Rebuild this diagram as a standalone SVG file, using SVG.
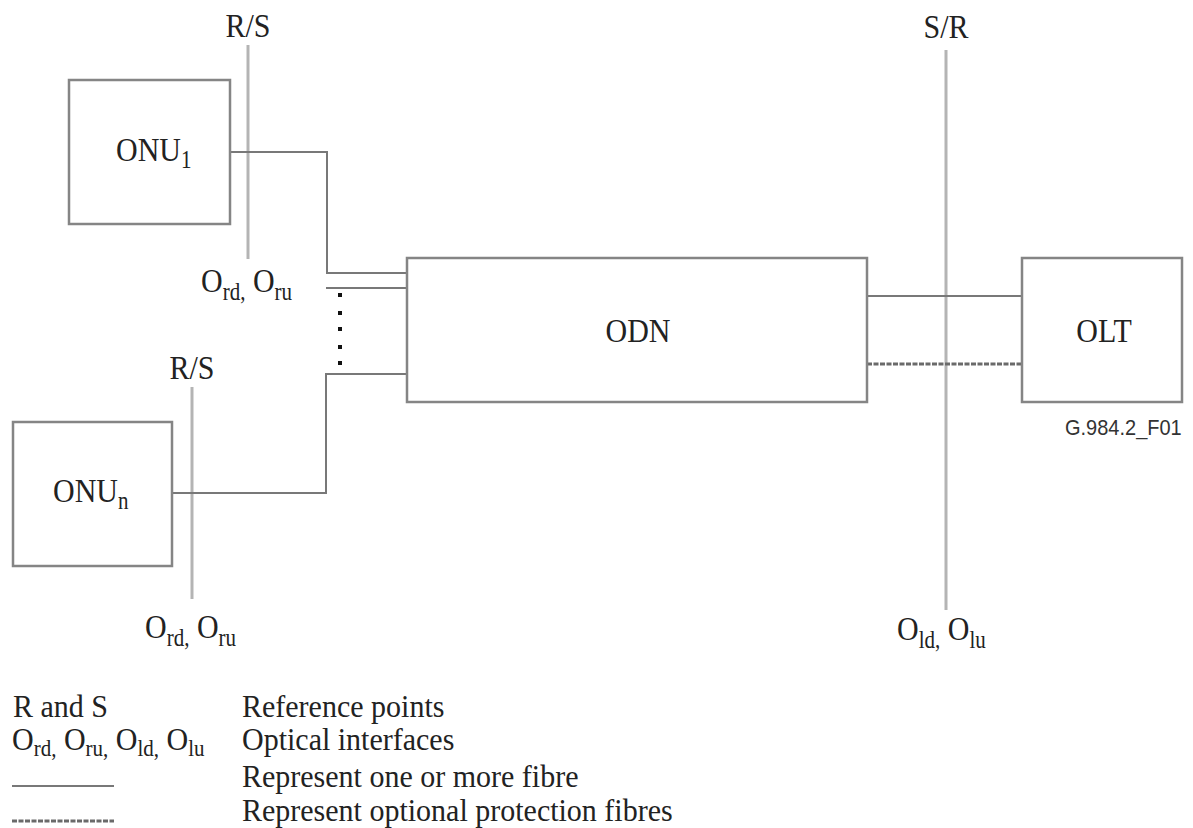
<svg xmlns="http://www.w3.org/2000/svg" width="1193" height="828" viewBox="0 0 1193 828">
<style>
.box{fill:#fff;stroke:#858585;stroke-width:2.5}
.ln{fill:none;stroke:#787878;stroke-width:2}
.ref{fill:none;stroke:#b4b4b4;stroke-width:3}
.dot{fill:none;stroke:#6a6a6a;stroke-width:3;stroke-dasharray:5 1.5}
text{font-family:"Liberation Serif","Times New Roman",serif;font-size:30px;fill:#222}
.sub{font-size:21px}
.sans{font-family:"Liberation Sans",Arial,sans-serif;font-size:20px;fill:#333}
</style>
<rect width="1193" height="828" fill="#fff"/>
<g id="connectors">
<line class="ref" x1="248" y1="45" x2="248" y2="259"/>
<line class="ref" x1="192" y1="387" x2="192" y2="599"/>
<line class="ref" x1="946" y1="50" x2="946" y2="610"/>
<path class="ln" d="M230,152 H327 V273 H407"/>
<path class="ln" d="M326,288 H407"/>
<path class="ln" d="M407,374 H326 V493 H172"/>
<path class="ln" d="M867,296 H1022"/>
<path class="dot" d="M867,364 H1022"/>
<g fill="#111">
<rect x="338" y="293" width="4" height="4"/>
<rect x="338" y="311" width="4" height="4"/>
<rect x="338" y="327" width="4" height="4"/>
<rect x="338" y="345" width="4" height="4"/>
<rect x="338" y="361" width="4" height="4"/>
</g>
</g>
<g id="onu1">
<rect class="box" x="69" y="80" width="161" height="144"/>
<text transform="translate(116,161) scale(1,1.15)">ONU<tspan class="sub" font-size="20" dy="6">1</tspan></text>
</g>
<g id="onun">
<rect class="box" x="13" y="422" width="159" height="144"/>
<text transform="translate(53,502) scale(1,1.15)">ONU<tspan class="sub" dy="6">n</tspan></text>
</g>
<g id="odn">
<rect class="box" x="407" y="258" width="460" height="144"/>
<text text-anchor="middle" transform="translate(638,342) scale(1,1.15)">ODN</text>
</g>
<g id="olt">
<rect class="box" x="1022" y="258" width="160" height="144"/>
<text text-anchor="middle" transform="translate(1104,342) scale(1,1.15)">OLT</text>
</g>
<g id="labels">
<text text-anchor="middle" transform="translate(248,37) scale(1,1.15)">R/S</text>
<text text-anchor="middle" transform="translate(192,379) scale(1,1.15)">R/S</text>
<text text-anchor="middle" transform="translate(946,38) scale(1,1.15)">S/R</text>
<text transform="translate(201,292) scale(1,1.15)">O<tspan class="sub" dy="7">rd,</tspan><tspan dy="-7"> O</tspan><tspan class="sub" dy="7">ru</tspan></text>
<text transform="translate(145,638) scale(1,1.15)">O<tspan class="sub" dy="7">rd,</tspan><tspan dy="-7"> O</tspan><tspan class="sub" dy="7">ru</tspan></text>
<text transform="translate(897,640) scale(1,1.15)">O<tspan class="sub" dy="7">ld,</tspan><tspan dy="-7"> O</tspan><tspan class="sub" dy="7">lu</tspan></text>
<text class="sans" transform="translate(1065,435) scale(1,1.1)">G.984.2_F01</text>
</g>
<g id="legend">
<text transform="translate(13,717) scale(1,1.08)">R and S</text>
<text transform="translate(12,750) scale(1,1.08)">O<tspan class="sub" dy="6">rd,</tspan><tspan dy="-6"> O</tspan><tspan class="sub" dy="6">ru,</tspan><tspan dy="-6"> O</tspan><tspan class="sub" dy="6">ld,</tspan><tspan dy="-6"> O</tspan><tspan class="sub" dy="6">lu</tspan></text>
<text transform="translate(242,717) scale(1,1.08)">Reference points</text>
<text transform="translate(242,750) scale(1,1.08)">Optical interfaces</text>
<text transform="translate(242,787) scale(1,1.08)">Represent one or more fibre</text>
<text transform="translate(242,821) scale(1,1.08)">Represent optional protection fibres</text>
<line class="ln" x1="12" y1="786" x2="114" y2="786"/>
<line class="dot" x1="12" y1="821" x2="114" y2="821"/>
</g>
</svg>
